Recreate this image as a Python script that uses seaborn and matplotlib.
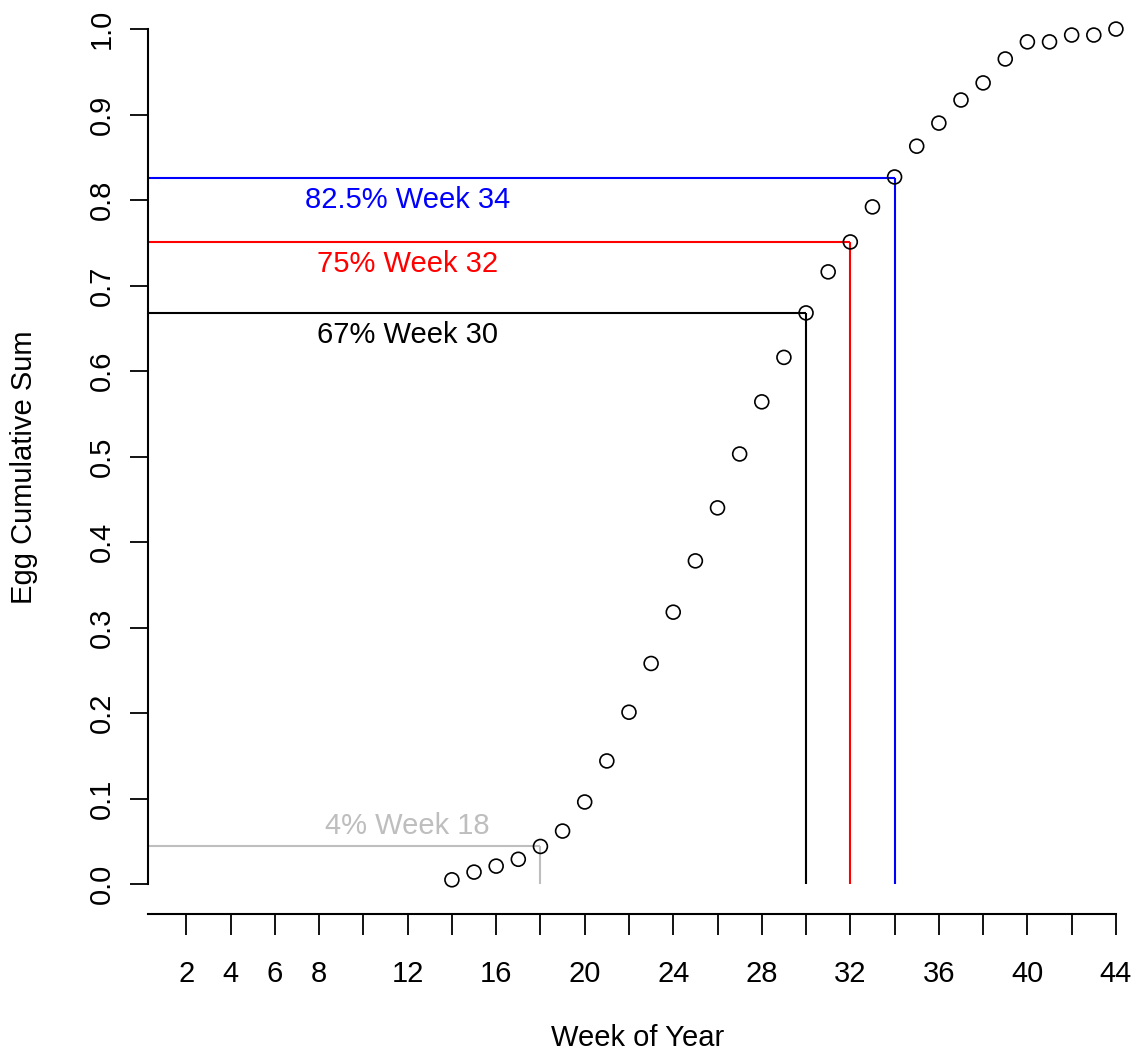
import matplotlib
matplotlib.use("Agg")
import matplotlib.pyplot as plt
import numpy as np
import pandas as pd
import seaborn as sns

# --- data ---
weeks = [14, 15, 16, 17, 18, 19, 20, 21, 22, 23, 24, 25, 26, 27, 28,
         29, 30, 31, 32, 33, 34, 35, 36, 37, 38, 39, 40, 41, 42, 43, 44]
cum_sum = [0.005, 0.014, 0.021, 0.029, 0.044, 0.062, 0.096, 0.144, 0.201,
           0.258, 0.318, 0.378, 0.440, 0.503, 0.564, 0.616, 0.668, 0.716,
           0.751, 0.792, 0.827, 0.863, 0.890, 0.917, 0.937, 0.965, 0.985,
           0.985, 0.993, 0.993, 1.000]

marker_weeks = [34, 32, 30, 18]
marker_levels = [0.826, 0.751, 0.668, 0.044]
marker_labels = ["82.5% Week 34", "75% Week 32", "67% Week 30", "4% Week 18"]
marker_colors = ["#0000FF", "#FF0000", "#000000", "#BEBEBE"]

x_ticks = list(range(2, 46, 2))
x_ticklabels = ["2", "4", "6", "8", "", "12", "", "16", "", "20", "", "24",
                "", "28", "", "32", "", "36", "", "40", "", "44"]
y_ticks = [0.0, 0.1, 0.2, 0.3, 0.4, 0.5, 0.6, 0.7, 0.8, 0.9, 1.0]

df = pd.DataFrame({"Week": weeks, "CumSum": cum_sum})

sns.set_theme(style="ticks")
plt.rcParams["font.family"] = ["Liberation Sans", "DejaVu Sans"]
plt.rcParams["text.color"] = "black"
plt.rcParams["axes.labelcolor"] = "black"

x_left, x_right = 0.27, 44.5
y_bottom, y_top = -0.035, 1.01

fig = plt.figure(figsize=(11.37, 10.59), dpi=100)
ax = fig.add_axes([148 / 1137, 1 - 914 / 1059,
                   (1127 - 148) / 1137, (914 - 20.5) / 1059])

for wk, lvl, lab, col in zip(marker_weeks, marker_levels, marker_labels, marker_colors):
    ax.hlines(lvl, x_left, wk, color=col, lw=1.5, zorder=1)
    ax.vlines(wk, 0, lvl, color=col, lw=1.5, zorder=1)
    offset = 0.024 if lvl < 0.1 else -0.026
    ax.text(12, lvl + offset, lab, color=col, fontsize=21,
            ha="center", va="center")

sns.scatterplot(data=df, x="Week", y="CumSum", ax=ax, marker="o",
                s=100, facecolor="none", edgecolor="black", linewidth=1.2,
                zorder=3, clip_on=False)

ax.set_xlim(x_left, x_right)
ax.set_ylim(y_bottom, y_top)

ax.spines["top"].set_visible(False)
ax.spines["right"].set_visible(False)
ax.spines["left"].set_bounds(0, 1)
ax.spines["bottom"].set_bounds(x_left, 44)
for s in ("left", "bottom"):
    ax.spines[s].set_linewidth(1.5)
    ax.spines[s].set_color("black")

ax.set_xticks(x_ticks)
ax.set_xticklabels(x_ticklabels)
ax.set_yticks(y_ticks)
ax.set_yticklabels([f"{v:.1f}" for v in y_ticks], rotation=90, va="center")
ax.tick_params(axis="x", length=15, width=1.3, pad=18, labelsize=21, colors="black")
ax.tick_params(axis="y", length=13, width=1.3, pad=10, labelsize=21, colors="black")

ax.set_xlabel("Week of Year", fontsize=21, labelpad=26)
ax.set_ylabel("Egg Cumulative Sum", fontsize=21, labelpad=36)

fig.savefig("out.png", dpi=100)
